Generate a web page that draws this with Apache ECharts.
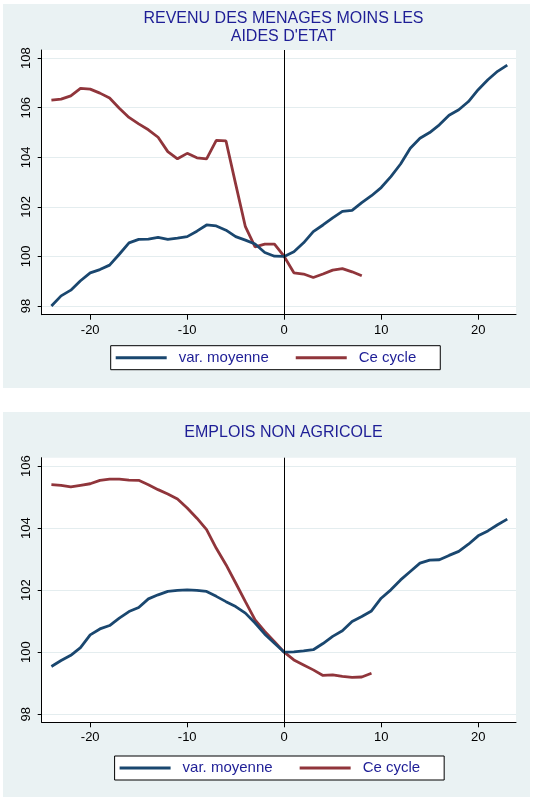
<!DOCTYPE html>
<html>
<head>
<meta charset="utf-8">
<title>Revenu et emplois</title>
<script src="https://cdn.jsdelivr.net/npm/echarts@6.0.0/dist/echarts.min.js"></script>
<style>
  html, body { margin: 0; padding: 0; background: #fff; }
  #main { width: 533px; height: 804px; }
</style>
</head>
<body>
<div id="main"></div>
<script>
// mois autour du creux du cycle
var months = [-24, -23, -22, -21, -20, -19, -18, -17, -16, -15, -14, -13, -12, -11, -10, -9, -8, -7, -6, -5, -4, -3, -2, -1,
              0, 1, 2, 3, 4, 5, 6, 7, 8, 9, 10, 11, 12, 13, 14, 15, 16, 17, 18, 19, 20, 21, 22, 23];

// Revenu des menages moins les aides d'etat
var revenuMoyenne = [98.0, 98.41, 98.64, 99.02, 99.34, 99.47, 99.65, 100.09, 100.55, 100.69, 100.70, 100.77,
                     100.69, 100.74, 100.80, 101.02, 101.27, 101.23, 101.06, 100.80, 100.66, 100.50, 100.16, 100.01,
                     100.0, 100.19, 100.55, 101.0, 101.27, 101.56, 101.82, 101.86, 102.17, 102.45, 102.78, 103.22,
                     103.73, 104.37, 104.77, 105.0, 105.31, 105.70, 105.92, 106.25, 106.73, 107.13, 107.47, 107.72];
var revenuCycle = [106.31, 106.35, 106.48, 106.78, 106.75, 106.59, 106.39, 105.98, 105.61, 105.35, 105.11, 104.81,
                   104.23, 103.94, 104.16, 103.98, 103.94, 104.68, 104.66, 102.92, 101.2, 100.39, 100.5, 100.5,
                   100.0, 99.34, 99.29, 99.15, 99.29, 99.45, 99.51, 99.38, 99.22];

// Emplois non agricole
var emploiMoyenne = [99.54, 99.73, 99.90, 100.15, 100.56, 100.75, 100.86, 101.10, 101.31, 101.44, 101.72, 101.85,
                     101.96, 101.99, 102.01, 101.99, 101.96, 101.80, 101.63, 101.47, 101.26, 100.94, 100.58, 100.29,
                     100.0, 100.01, 100.04, 100.08, 100.28, 100.51, 100.69, 100.99, 101.15, 101.33, 101.74, 102.01,
                     102.33, 102.60, 102.87, 102.97, 102.98, 103.12, 103.25, 103.48, 103.75, 103.91, 104.11, 104.29];
var emploiCycle = [105.40, 105.38, 105.33, 105.38, 105.43, 105.54, 105.58, 105.58, 105.55, 105.54, 105.40, 105.24,
                   105.10, 104.94, 104.65, 104.32, 103.95, 103.35, 102.82, 102.23, 101.63, 101.04, 100.67, 100.34,
                   100.0, 99.75, 99.59, 99.43, 99.25, 99.27, 99.22, 99.19, 99.20, 99.32];

var xTicks = [-20, -10, 0, 10, 20];
var yTicksRevenu = [98, 100, 102, 104, 106, 108];
var yTicksEmploi = [98, 100, 102, 104, 106];

var seriesNames = ['var. moyenne', 'Ce cycle'];
var titles = ['REVENU DES MENAGES MOINS LES\nAIDES D\'ETAT', 'EMPLOIS NON AGRICOLE'];

var FONT = '"Liberation Sans", Arial, sans-serif';
var BG = '#eaf2f3';
var TEXT_BLUE = '#1e1e96';
var NAVY = '#1a476f';
var MAROON = '#90353b';

function pairs(xs, ys) {
    return ys.map(function (v, i) { return [xs[i], v]; });
}

function xAxisFor(gi) {
    return {
        type: 'value', gridIndex: gi, min: -25, max: 23.9,
        axisLine: { show: true, onZero: false, lineStyle: { color: '#000', width: 1 } },
        axisTick: { show: true, length: 5, customValues: xTicks, lineStyle: { color: '#000' } },
        axisLabel: { customValues: xTicks, margin: 9, fontSize: 13, color: '#000', fontFamily: FONT },
        splitLine: { show: false }
    };
}

function yAxisFor(gi, lo, hi, ticks) {
    return {
        type: 'value', gridIndex: gi, min: lo, max: hi,
        axisLine: { show: true, onZero: false, lineStyle: { color: '#000', width: 1 } },
        axisTick: { show: true, length: 4, customValues: ticks, lineStyle: { color: '#000' } },
        axisLabel: { customValues: ticks, rotate: 90, margin: 9, fontSize: 13, color: '#000', fontFamily: FONT },
        splitLine: { show: true, lineStyle: { color: '#e4edef', width: 1 } }
    };
}

function legendFor(left, top) {
    return {
        left: left, top: top, orient: 'horizontal',
        data: seriesNames, selectedMode: false,
        icon: 'rect', itemWidth: 51, itemHeight: 3, itemGap: 27,
        padding: [4, 24, 4, 5],
        backgroundColor: '#fff', borderColor: '#000', borderWidth: 1, borderRadius: 0,
        textStyle: { fontSize: 15, color: TEXT_BLUE, fontFamily: FONT, lineHeight: 16, padding: [0, 0, 0, 7] }
    };
}

function lineSeries(name, color, gi, data, withZero) {
    var s = {
        name: name, type: 'line', xAxisIndex: gi, yAxisIndex: gi,
        data: data, showSymbol: false, symbol: 'none',
        lineStyle: { color: color, width: 2.8 }, itemStyle: { color: color },
        z: name === seriesNames[0] ? 3 : 2
    };
    if (withZero) {
        s.markLine = {
            silent: true, symbol: ['none', 'none'],
            label: { show: false },
            lineStyle: { color: '#000', width: 1, type: 'solid' },
            data: [{ xAxis: 0 }]
        };
    }
    return s;
}

var dom = document.getElementById('main');
var myChart = echarts.init(dom, null, { renderer: 'canvas' });
var option = {
    backgroundColor: '#fff',
    animation: false,
    graphic: [
        { type: 'rect', z: -100, shape: { x: 3, y: 4, width: 527, height: 384 }, style: { fill: BG } },
        { type: 'rect', z: -100, shape: { x: 3, y: 412, width: 527, height: 385 }, style: { fill: BG } }
    ],
    title: [
        {
            text: titles[0], left: 283.5, top: 9.8, textAlign: 'center', padding: 0,
            textStyle: { fontSize: 16, fontWeight: 'normal', color: TEXT_BLUE, lineHeight: 18, fontFamily: FONT }
        },
        {
            text: titles[1], left: 283.5, top: 423.4, textAlign: 'center', padding: 0,
            textStyle: { fontSize: 16, fontWeight: 'normal', color: TEXT_BLUE, lineHeight: 18, fontFamily: FONT }
        }
    ],
    legend: [legendFor(110.7, 345.7), legendFor(114.6, 756)],
    grid: [
        { left: 41.7, top: 50, width: 474.3, height: 264.7, show: true, backgroundColor: '#fff', borderWidth: 0 },
        { left: 41.7, top: 457.7, width: 474.3, height: 264.6, show: true, backgroundColor: '#fff', borderWidth: 0 }
    ],
    xAxis: [xAxisFor(0), xAxisFor(1)],
    yAxis: [yAxisFor(0, 97.65, 108.33, yTicksRevenu), yAxisFor(1, 97.74, 106.27, yTicksEmploi)],
    series: [
        lineSeries(seriesNames[1], MAROON, 0, pairs(months, revenuCycle), false),
        lineSeries(seriesNames[0], NAVY, 0, pairs(months, revenuMoyenne), true),
        lineSeries(seriesNames[1], MAROON, 1, pairs(months, emploiCycle), false),
        lineSeries(seriesNames[0], NAVY, 1, pairs(months, emploiMoyenne), true)
    ]
};

if (option && typeof option === "object") {
    myChart.setOption(option, true);
}
</script>
</body>
</html>
